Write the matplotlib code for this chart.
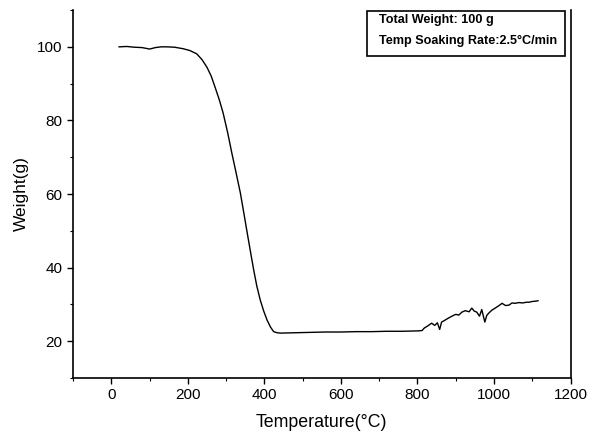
import matplotlib
matplotlib.use("Agg")
import matplotlib.pyplot as plt
from matplotlib.ticker import MultipleLocator
from matplotlib.patches import Rectangle

plt.rcParams['font.family'] = ['Liberation Sans', 'DejaVu Sans']

# Read-off TGA curve (temperature in degC, weight in g)
temperature = [20, 40, 60, 80, 100, 115, 130, 145, 165, 187, 205, 223, 237, 250,
               261, 271, 282, 292, 304, 315, 326, 337, 346, 355, 364, 372, 380,
               389, 398, 407, 416, 424, 433, 442, 480, 520, 560, 600, 640, 680,
               720, 760, 800, 812, 818, 826, 837, 845, 852, 858, 863, 870, 881,
               890, 900, 908, 916, 925, 935, 942, 948, 955, 962, 968, 976, 981,
               986, 994, 1003, 1012, 1021, 1030, 1039, 1047, 1055, 1065, 1075,
               1085, 1092, 1100, 1110, 1115]
weight = [100.0, 100.1, 99.9, 99.8, 99.4, 99.8, 100.0, 100.0, 99.9, 99.5, 99.0,
          98.1, 96.5, 94.4, 92.0, 89.0, 85.6, 82.0, 76.6, 71.0, 65.7, 60.3,
          54.9, 49.4, 44.0, 39.3, 35.0, 31.2, 28.2, 25.7, 23.8, 22.6, 22.3,
          22.2, 22.3, 22.4, 22.5, 22.5, 22.6, 22.6, 22.7, 22.7, 22.8, 22.9,
          23.6, 24.1, 24.9, 24.3, 25.0, 23.2, 25.2, 25.6, 26.3, 26.8, 27.3,
          27.1, 27.9, 28.3, 28.0, 29.0, 28.2, 27.9, 26.8, 28.6, 25.2, 27.0,
          27.6, 28.4, 29.0, 29.6, 30.3, 29.7, 29.8, 30.4, 30.3, 30.5, 30.4,
          30.6, 30.6, 30.8, 30.9, 31.0]

x_ticks = [0, 200, 400, 600, 800, 1000, 1200]
y_ticks = [20, 40, 60, 80, 100]
info_lines = ["Total Weight: 100 g", "Temp Soaking Rate:2.5°C/min"]

fig = plt.figure(figsize=(5.9, 4.37), dpi=100)
ax = fig.add_axes([0.124, 0.135, 0.843, 0.842])
ax.plot(temperature, weight, color='black', lw=1.0)

ax.set_xlim(-100, 1200)
ax.set_ylim(10, 110)
ax.set_xticks(x_ticks)
ax.set_yticks(y_ticks)
ax.xaxis.set_minor_locator(MultipleLocator(100))
ax.yaxis.set_minor_locator(MultipleLocator(10))
ax.tick_params(which='major', direction='out', length=4, width=1.0,
               labelsize=11, colors='black')
ax.tick_params(which='minor', direction='out', length=2.5, width=0.8)
ax.spines['top'].set_visible(False)
for s in ['left', 'bottom', 'right']:
    ax.spines[s].set_linewidth(1.2)

ax.set_xlabel("Temperature(°C)", fontsize=12.8, labelpad=8)
ax.set_ylabel("Weight(g)", fontsize=12.5, labelpad=6)

ax.add_patch(Rectangle((0.590, 0.875), 0.398, 0.122, transform=ax.transAxes,
                       fc='white', ec='black', lw=1.2, clip_on=False, zorder=3))
ax.text(0.614, 0.973, info_lines[0], transform=ax.transAxes, fontsize=9.1,
        fontweight='bold', va='center', ha='left', zorder=4)
ax.text(0.614, 0.916, info_lines[1], transform=ax.transAxes, fontsize=9.1,
        fontweight='bold', va='center', ha='left', zorder=4)

fig.savefig("out.png", dpi=100)
